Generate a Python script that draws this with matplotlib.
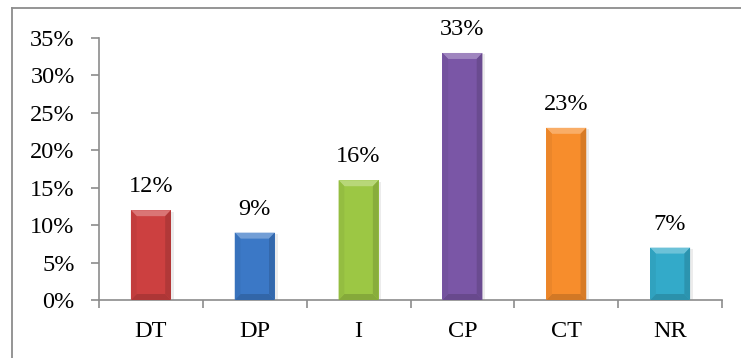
import matplotlib
matplotlib.use("Agg")
import matplotlib.pyplot as plt
import matplotlib.patheffects as pe
from matplotlib.patches import Polygon
from matplotlib.lines import Line2D
import numpy as np

categories = ["DT", "DP", "I", "CP", "CT", "NR"]
values = [12, 9, 16, 33, 23, 7]
colors = ["#CC4040", "#3B78C6", "#9CC744", "#7A56A6", "#F78D2C", "#33AAC9"]
yticks = [0, 5, 10, 15, 20, 25, 30, 35]

plt.rcParams["font.family"] = ["Liberation Serif", "DejaVu Serif"]
FS = 17.5

fig = plt.figure(figsize=(7.41, 3.58), dpi=100)
ax = fig.add_axes([99 / 741, 58 / 358, 623 / 741, 262 / 358])


def mix(c, other, t):
    c = np.array(matplotlib.colors.to_rgb(c))
    o = np.array(matplotlib.colors.to_rgb(other))
    return tuple(c * (1 - t) + o * t)


x = np.arange(len(categories))
width = 0.385
bars = ax.bar(x, values, width=width, color=colors, zorder=2,
              path_effects=[pe.SimplePatchShadow(offset=(2, -1), alpha=0.15,
                                                 shadow_rgbFace="gray"),
                            pe.Normal()])

# bevelled edges on each bar
dx, dy = 0.055, 0.8
for rect, col in zip(bars, colors):
    x0 = rect.get_x()
    x1 = x0 + rect.get_width()
    h = rect.get_height()
    faces = [
        ([(x0, h), (x1, h), (x1 - dx, h - dy), (x0 + dx, h - dy)], mix(col, "white", 0.28)),
        ([(x0, 0), (x1, 0), (x1 - dx, dy), (x0 + dx, dy)], mix(col, "black", 0.15)),
        ([(x0, 0), (x0, h), (x0 + dx, h - dy), (x0 + dx, dy)], mix(col, "black", 0.05)),
        ([(x1, 0), (x1, h), (x1 - dx, h - dy), (x1 - dx, dy)], mix(col, "black", 0.13)),
    ]
    for pts, fc in faces:
        ax.add_patch(Polygon(pts, closed=True, facecolor=fc, edgecolor="none", zorder=3))

for xi, v in zip(x, values):
    ax.annotate(f"{v}%", (xi, v), xytext=(0, 13), textcoords="offset points",
                ha="center", va="baseline", fontsize=FS, color="black")

ax.set_xlim(-0.5, len(categories) - 0.5)
ax.set_ylim(0, 35)
ax.set_yticks(yticks)
ax.set_yticklabels([f"{t}%" for t in yticks])
ax.set_xticks(x)
ax.set_xticklabels(categories)
ax.set_xticks(np.arange(-0.5, len(categories)), minor=True)

spine_col = "#8C8C8C"
for s in ["top", "right"]:
    ax.spines[s].set_visible(False)
for s in ["left", "bottom"]:
    ax.spines[s].set_color(spine_col)
    ax.spines[s].set_linewidth(1.2)

ax.tick_params(axis="y", direction="out", length=5.5, width=1.2, color=spine_col,
               pad=12, labelsize=FS)
ax.tick_params(axis="x", which="major", length=0, pad=15, labelsize=FS)
ax.tick_params(axis="x", which="minor", direction="out", length=5.5, width=1.2,
               color=spine_col)

# outer frame of the chart area
fig.add_artist(Line2D([12 / 741, 12 / 741], [0, 1 - 8 / 358], color="#8C8C8C", lw=1.3))
fig.add_artist(Line2D([12 / 741, 1], [1 - 8 / 358, 1 - 8 / 358], color="#8C8C8C", lw=1.3))

fig.savefig("out.png", dpi=100)
